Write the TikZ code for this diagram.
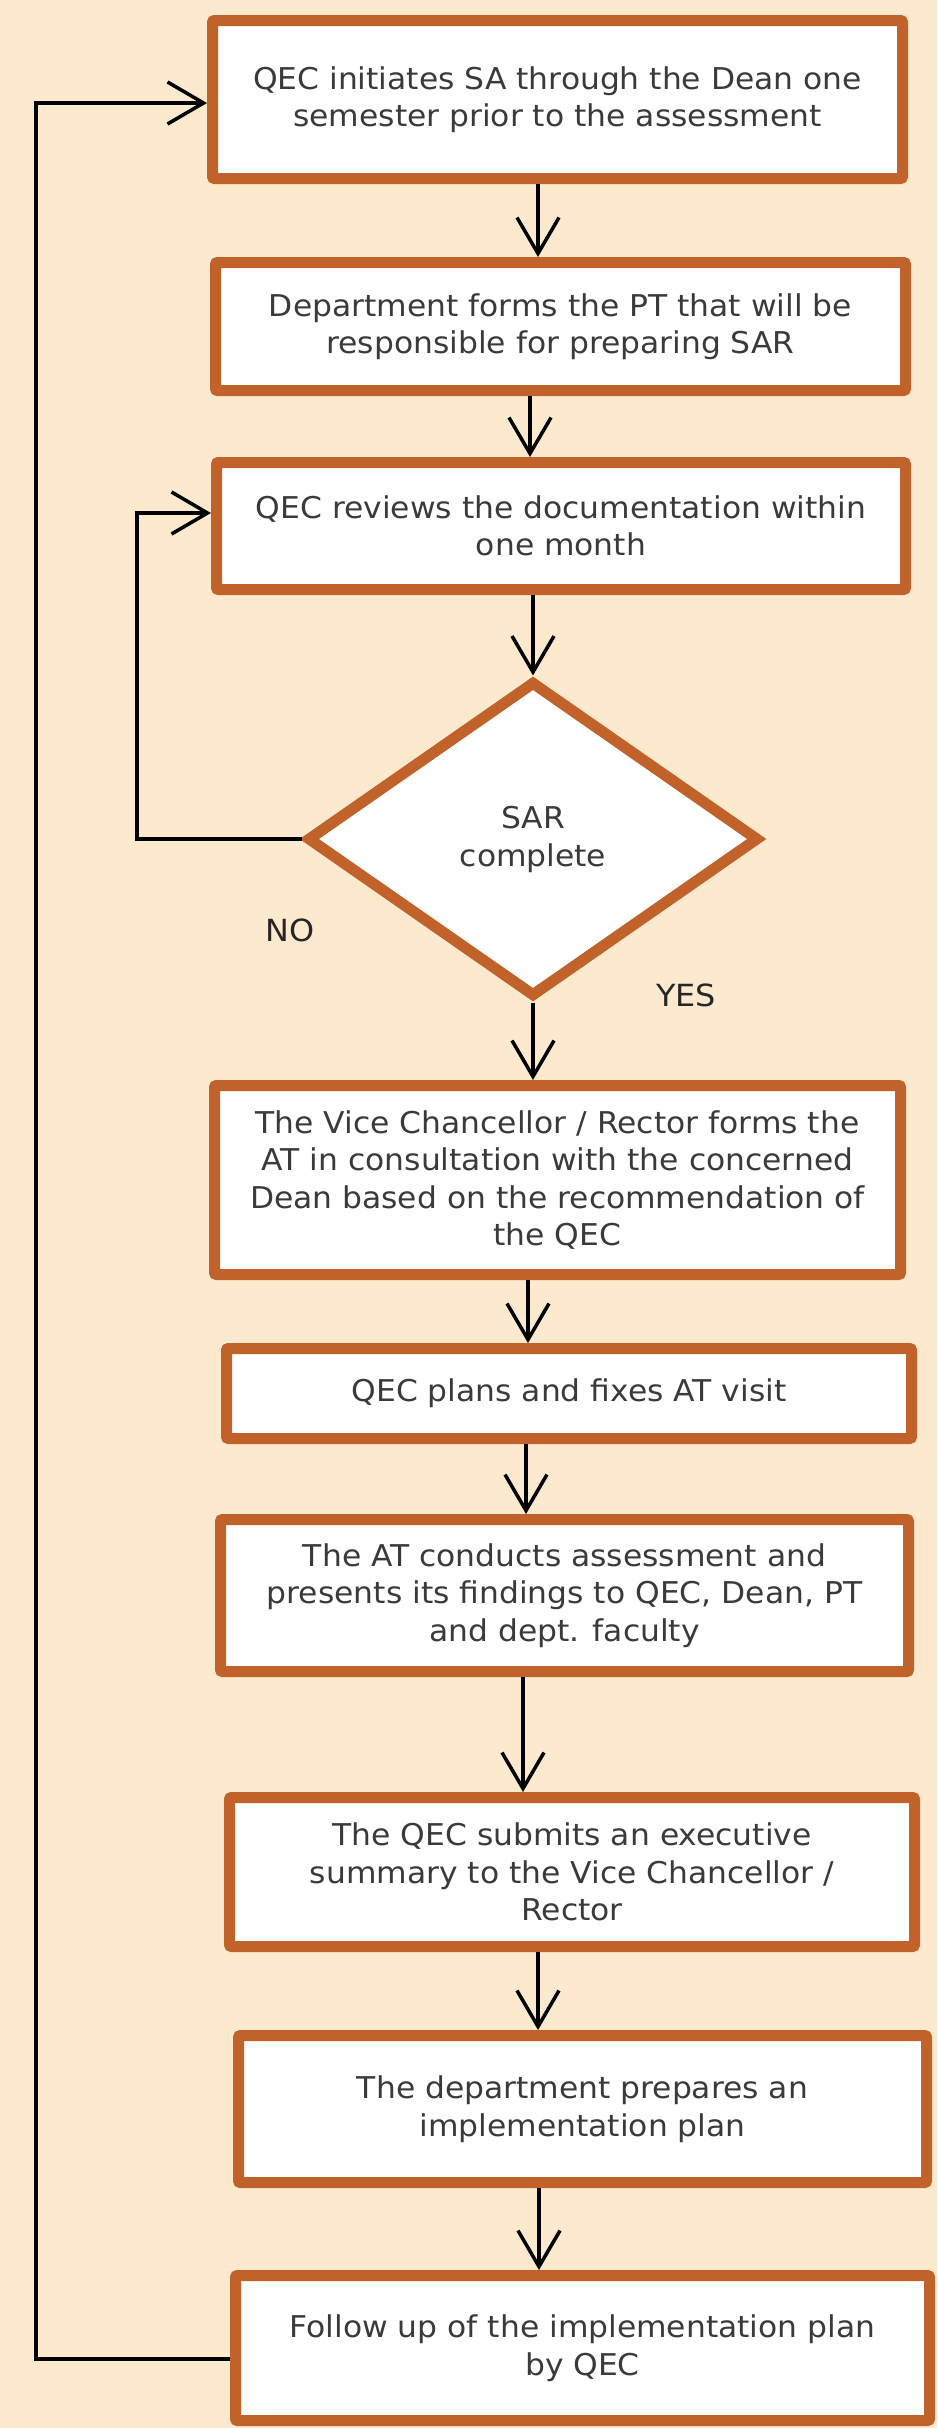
\documentclass[tikz,border=0pt]{standalone}
\usepackage{fontspec}
\setmainfont[FakeStretch=1.045]{DejaVu Sans}
\usetikzlibrary{shapes.geometric,arrows.meta}
\definecolor{bgcol}{RGB}{252,233,206}
\definecolor{boxedge}{RGB}{193,98,43}
\definecolor{txtcol}{RGB}{58,58,58}
\tikzset{
  stepbox/.style={draw=boxedge, line width=11pt, fill=white, rectangle, rounded corners=2pt,
    inner sep=0pt, align=center, text=txtcol,
    font=\fontsize{30}{37.5}\selectfont},
  decbox/.style={draw=boxedge, line width=11pt, fill=white, diamond, inner sep=0pt,
    align=center, text=txtcol, font=\fontsize{30}{38}\selectfont},
  lbl/.style={text=black!85, font=\fontsize{30.5}{36}\selectfont, inner sep=0pt},
  arr/.style={draw=black, line width=3.5pt,
    -{Straight Barb[length=36pt,width=42pt,line width=3.5pt]}},
}
\begin{document}
\begin{tikzpicture}[x=1pt,y=-1pt]
\fill[bgcol] (0,0) rectangle (937,2428);
\useasboundingbox (0,0) rectangle (937,2428);

\node[stepbox, minimum width=690pt, minimum height=158pt] (b1) at (557.5,99.5)
  {QEC initiates SA through the Dean one\\semester prior to the assessment};
\node[stepbox, minimum width=690pt, minimum height=128pt] (b2) at (560.5,326.5)
  {Department forms the PT that will be\\responsible for preparing SAR};
\node[stepbox, minimum width=689pt, minimum height=127pt] (b3) at (561,526)
  {QEC reviews the documentation within\\one month};
\node[decbox, minimum width=452pt, minimum height=316pt] (d) at (533,839)
  {SAR\\complete};
\node[stepbox, minimum width=686pt, minimum height=189pt] (b4) at (557.5,1180)
  {The Vice Chancellor / Rector forms the\\AT in consultation with the concerned\\Dean based on the recommendation of\\the QEC};
\node[stepbox, minimum width=685pt, minimum height=90pt] (b5) at (569,1393.5)
  {QEC plans and fixes AT visit};
\node[stepbox, minimum width=688pt, minimum height=152pt] (b6) at (564.5,1595.5)
  {The AT conducts assessment and\\presents its findings to QEC, Dean, PT\\and dept. faculty};
\node[stepbox, minimum width=685pt, minimum height=149pt] (b7) at (572,1872)
  {The QEC submits an executive\\summary to the Vice Chancellor /\\Rector};
\node[stepbox, minimum width=688pt, minimum height=147pt] (b8) at (582.5,2109)
  {The department prepares an\\implementation plan};
\node[stepbox, minimum width=694pt, minimum height=145pt] (b9) at (582.5,2348)
  {Follow up of the implementation plan\\by QEC};

\node[lbl] (no) at (290,930) {NO};
\node[lbl] (yes) at (686,995) {YES};

\coordinate (outerx) at (36,1200);
\coordinate (innerx) at (137,700);
\coordinate (in1) at ([yshift=-3.5pt]b1.west);
\coordinate (in3) at ([yshift=13pt]b3.west);
\coordinate (out9) at ([yshift=-11pt]b9.west);

\draw[arr] ([xshift=-19.5pt]b1.south) -- ([xshift=-22.5pt]b2.north);
\draw[arr] ([xshift=-30.5pt]b2.south) -- ([xshift=-31pt]b3.north);
\draw[arr] ([xshift=-28pt]b3.south) -- (d.north);
\draw[arr] (d.south) -- ([xshift=-24.5pt]b4.north);
\draw[arr] ([xshift=-29.5pt]b4.south) -- ([xshift=-41pt]b5.north);
\draw[arr] ([xshift=-43pt]b5.south) -- ([xshift=-38.5pt]b6.north);
\draw[arr] ([xshift=-41.5pt]b6.south) -- ([xshift=-49pt]b7.north);
\draw[arr] ([xshift=-34pt]b7.south) -- ([xshift=-44.5pt]b8.north);
\draw[arr] ([xshift=-43.5pt]b8.south) -- ([xshift=-43.5pt]b9.north);

\draw[arr] (d.west) -| (innerx |- in3) -- (in3);
\draw[arr] (out9) -| (outerx |- in1) -- (in1);
\end{tikzpicture}
\end{document}
